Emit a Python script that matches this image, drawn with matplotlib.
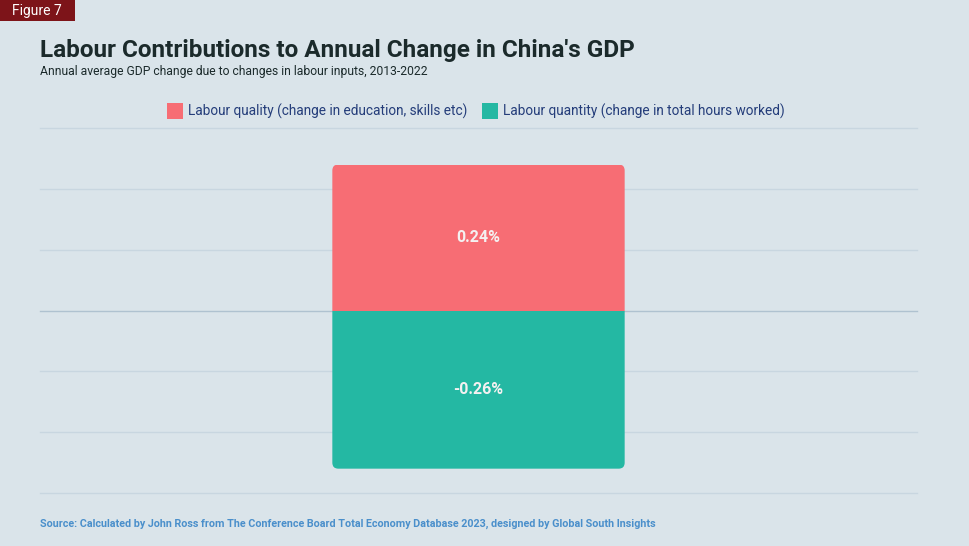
import matplotlib.pyplot as plt
from matplotlib.patches import FancyBboxPatch, Rectangle

# ---------- Data ----------
category = ["2013-2022"]
quality = [0.24]
quantity = [-0.26]
series_names = ["Labour quality (change in education, skills etc)",
                "Labour quantity (change in total hours worked)"]
yticks = [-0.3, -0.2, -0.1, 0.0, 0.1, 0.2, 0.3]

BG = "#dae4ea"
RED = "#f76d74"
GREEN = "#24b8a3"

plt.rcParams["font.family"] = ["Roboto", "DejaVu Sans"]

fig = plt.figure(figsize=(9.69, 5.46), dpi=100, facecolor=BG)
ax = fig.add_axes([40 / 969, (546 - 493) / 546, 877 / 969, 365 / 546])
ax.set_facecolor(BG)

x = list(range(len(category)))
b1 = ax.bar(x, quality, width=1.0, color=RED, zorder=3)
b2 = ax.bar(x, quantity, width=1.0, color=GREEN, zorder=3)

ax.set_xlim(-1.5, 1.5)
ax.set_ylim(-0.3, 0.3)

# rounded outer corners via clip path
px_x = 3.0 / 877
px_y = 0.6 / 365
r = 6 * px_x
clip = FancyBboxPatch((x[0] - 0.5, quantity[0]), 1.0, quality[0] - quantity[0],
                      boxstyle=f"round,pad=0,rounding_size={r}",
                      mutation_aspect=px_y / px_x, transform=ax.transData,
                      facecolor="none", edgecolor="none")
ax.add_patch(clip)
for bar in list(b1) + list(b2):
    bar.set_clip_path(clip)

for xi, v in zip(x, quality):
    ax.text(xi, v / 2, f"{v:.2f}%", ha="center", va="center", color="#f4f1f1",
            fontsize=11.5, fontweight="bold", zorder=4)
for xi, v in zip(x, quantity):
    ax.text(xi, v / 2, f"{v:.2f}%", ha="center", va="center", color="#f4f1f1",
            fontsize=11.5, fontweight="bold", zorder=4)

# gridlines (not clipped so the edge lines show)
for yt in yticks:
    col = "#afc2d0" if yt == 0 else "#c8d6e0"
    ax.axhline(yt, color=col, linewidth=1, zorder=1, clip_on=False)
ax.set_xticks([])
ax.set_yticks([])
for s in ax.spines.values():
    s.set_visible(False)

# ---------- Texts ----------
fig.patches.append(Rectangle((0, 1 - 21 / 546), 75 / 969, 21 / 546,
                             transform=fig.transFigure, facecolor="#7d1419",
                             edgecolor="none"))
fig.text(37 / 969, 1 - 11 / 546, "Figure 7", color="white", fontsize=10,
         ha="center", va="center")

fig.text(40 / 969, 1 - 50 / 546, "Labour Contributions to Annual Change in China's GDP",
         fontsize=17.5, fontweight="bold", color="#1b2a2b", va="center")
fig.text(40 / 969, 1 - 72 / 546,
         "Annual average GDP change due to changes in labour inputs, 2013-2022",
         fontsize=8.7, color="#1b2a2b", va="center")

# legend
leg_y = 1 - 111 / 546
fig.patches.append(Rectangle((167 / 969, leg_y - 8 / 546), 16 / 969, 16 / 546,
                             transform=fig.transFigure, facecolor=RED,
                             edgecolor="none"))
fig.text(188 / 969, leg_y, series_names[0], fontsize=9.8, color="#243d7a",
         va="center")
fig.patches.append(Rectangle((482 / 969, leg_y - 8 / 546), 16 / 969, 16 / 546,
                             transform=fig.transFigure, facecolor=GREEN,
                             edgecolor="none"))
fig.text(503 / 969, leg_y, series_names[1], fontsize=9.8, color="#243d7a",
         va="center")

fig.text(40 / 969, 1 - 524 / 546,
         "Source: Calculated by John Ross from The Conference Board Total Economy Database 2023, designed by Global South Insights",
         fontsize=7.75, fontweight="bold", color="#4a8fcb", va="center")

fig.savefig("out.png", dpi=100, facecolor=BG)
